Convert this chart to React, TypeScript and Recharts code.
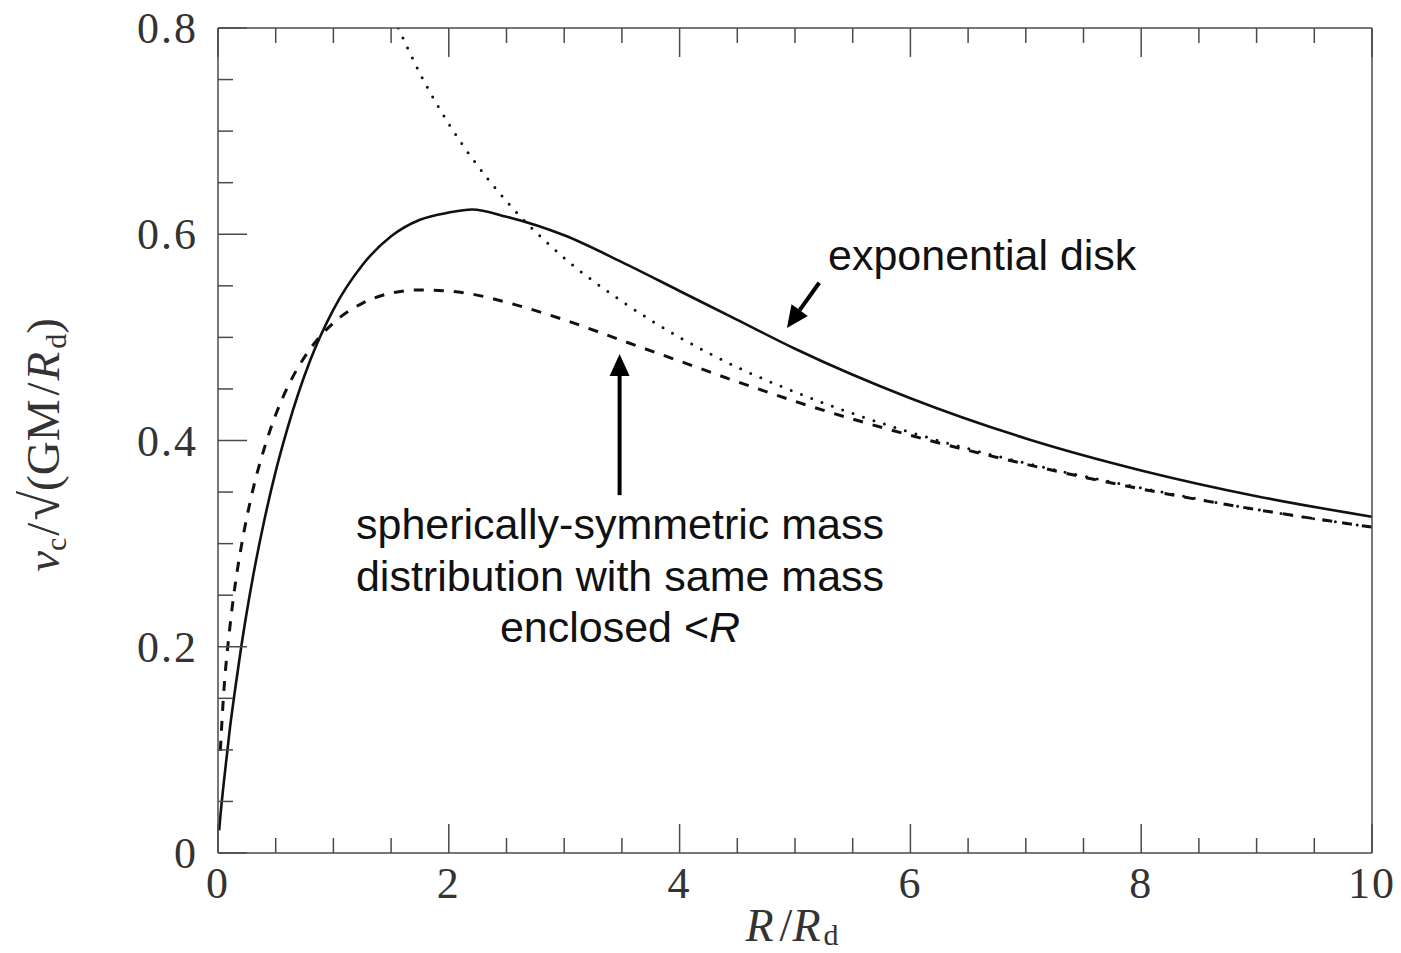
import { LineChart, Line, XAxis, YAxis, ReferenceLine } from 'recharts';

// R / R_d sample positions
const radius = [0.01, 0.02, 0.05, 0.1, 0.15, 0.2, 0.3, 0.4, 0.5, 0.6, 0.8, 1, 1.25, 1.5, 1.5625, 1.75, 2, 2.2, 2.5, 3, 3.5, 4, 4.5, 5, 6, 7, 8, 9, 10];
// exponential disk (solid)
const diskV = [0.022, 0.035, 0.068, 0.118, 0.16, 0.199, 0.266, 0.322, 0.37, 0.411, 0.478, 0.527, 0.570, 0.598, null, 0.614, 0.621, 0.624, 0.617, 0.599, 0.573, 0.545, 0.517, 0.489, 0.441, 0.402, 0.371, 0.346, 0.326];
// spherical distribution with same enclosed mass (dashed)
const sphereV = [null, 0.099, 0.156, 0.216, 0.261, 0.296, 0.351, 0.392, 0.425, 0.451, 0.489, 0.514, 0.533, 0.543, null, 0.546, 0.545, 0.542, 0.534, 0.517, 0.497, 0.477, 0.457, 0.438, 0.405, 0.377, 0.353, 0.333, 0.316];
// point mass / keplerian (dotted)
const pointV = [null, null, null, null, null, null, null, null, null, null, null, null, null, null, 0.8, 0.756, 0.707, 0.674, 0.632, 0.577, 0.535, 0.5, 0.471, 0.447, 0.408, 0.378, 0.354, 0.333, 0.316];

const xTicks = [0, 0.5, 1, 1.5, 2, 2.5, 3, 3.5, 4, 4.5, 5, 5.5, 6, 6.5, 7, 7.5, 8, 8.5, 9, 9.5, 10];
const xMajor = [0, 2, 4, 6, 8, 10];
const yTicks = [0, 0.05, 0.1, 0.15, 0.2, 0.25, 0.3, 0.35, 0.4, 0.45, 0.5, 0.55, 0.6, 0.65, 0.7, 0.75, 0.8];
const yMajor = [0, 0.2, 0.4, 0.6, 0.8];
const yLabels = ['0', '0.2', '0.4', '0.6', '0.8'];

// arrows: [R, v] tail -> tip
const diskArrow = [[5.21, 0.553], [4.93, 0.509]];
const sphereArrow = [[3.48, 0.347], [3.48, 0.484]];

const data = radius.map((r, i) => ({ r, disk: diskV[i], sphere: sphereV[i], point: pointV[i] }));

const AXIS = '#4a4a4a';
const TICK_FONT = '"Liberation Serif", "Times New Roman", serif';
const NOTE_FONT = '"Liberation Sans", Helvetica, Arial, sans-serif';
const MAJOR = 29;
const MINOR = 15;

const isMajor = (list: number[], v: number) => list.some(m => Math.abs(m - v) < 1e-6);

const BottomTick = (props: any) => {
    const { x, y, payload } = props;
    const major = isMajor(xMajor, payload.value);
    return (
        <g>
            <line x1={x} y1={y} x2={x} y2={y - (major ? MAJOR : MINOR)} stroke={AXIS} strokeWidth={1.5} />
            {major && (
                <text x={x} y={y + 45} textAnchor="middle" fontFamily={TICK_FONT} fontSize={44} fill="#333" letterSpacing={2}>
                    {payload.value}
                </text>
            )}
        </g>
    );
};

const TopTick = (props: any) => {
    const { x, y, payload } = props;
    const major = isMajor(xMajor, payload.value);
    return <line x1={x} y1={y} x2={x} y2={y + (major ? MAJOR : MINOR)} stroke={AXIS} strokeWidth={1.5} />;
};

const LeftTick = (props: any) => {
    const { x, y, payload } = props;
    const idx = yMajor.findIndex(m => Math.abs(m - payload.value) < 1e-6);
    const major = idx >= 0;
    return (
        <g>
            <line x1={x} y1={y} x2={x + (major ? MAJOR : MINOR)} y2={y} stroke={AXIS} strokeWidth={1.5} />
            {major && (
                <text x={x - 20} y={y + 15} textAnchor="end" fontFamily={TICK_FONT} fontSize={44} fill="#333" letterSpacing={2}>
                    {yLabels[idx]}
                </text>
            )}
        </g>
    );
};

const RightTick = (props: any) => {
    const { x, y, payload } = props;
    const major = isMajor(yMajor, payload.value);
    return <line x1={x} y1={y} x2={x - (major ? MAJOR : MINOR)} y2={y} stroke={AXIS} strokeWidth={1.5} />;
};

const Arrow = (props: any) => {
    const { x1, y1, x2, y2 } = props;
    const dx = x2 - x1;
    const dy = y2 - y1;
    const len = Math.sqrt(dx * dx + dy * dy);
    const ux = dx / len;
    const uy = dy / len;
    const headLen = 22;
    const headW = 10;
    const bx = x2 - ux * headLen;
    const by = y2 - uy * headLen;
    return (
        <g>
            <line x1={x1} y1={y1} x2={bx} y2={by} stroke="#000" strokeWidth={4} />
            <polygon
                points={`${x2},${y2} ${bx - uy * headW},${by + ux * headW} ${bx + uy * headW},${by - ux * headW}`}
                fill="#000"
            />
        </g>
    );
};

export default function App() {
    return (
        <div style={{ position: 'relative', width: 1393, height: 945, marginTop: -8 }}>
            <LineChart width={1393} height={945} data={data} margin={{ top: 8, right: 0, left: 0, bottom: 0 }}>
                <XAxis
                    dataKey="r"
                    type="number"
                    domain={[0, 10]}
                    ticks={xTicks}
                    interval={0}
                    height={92}
                    tickSize={0}
                    tickMargin={0}
                    tickLine={false}
                    axisLine={{ stroke: AXIS, strokeWidth: 1.5 }}
                    tick={<BottomTick />}
                    allowDataOverflow
                />
                <XAxis
                    xAxisId="top"
                    orientation="top"
                    dataKey="r"
                    type="number"
                    domain={[0, 10]}
                    ticks={xTicks}
                    interval={0}
                    height={20}
                    tickSize={0}
                    tickMargin={0}
                    tickLine={false}
                    axisLine={{ stroke: AXIS, strokeWidth: 1.5 }}
                    tick={<TopTick />}
                />
                <YAxis
                    type="number"
                    domain={[0, 0.8]}
                    ticks={yTicks}
                    interval={0}
                    width={210}
                    tickSize={0}
                    tickMargin={0}
                    tickLine={false}
                    axisLine={{ stroke: AXIS, strokeWidth: 1.5 }}
                    tick={<LeftTick />}
                    allowDataOverflow
                />
                <YAxis
                    yAxisId="right"
                    orientation="right"
                    type="number"
                    domain={[0, 0.8]}
                    ticks={yTicks}
                    interval={0}
                    width={29}
                    tickSize={0}
                    tickMargin={0}
                    tickLine={false}
                    axisLine={{ stroke: AXIS, strokeWidth: 1.5 }}
                    tick={<RightTick />}
                />
                <Line type="monotone" dataKey="point" stroke="#111" strokeWidth={3} strokeDasharray="0 11" strokeLinecap="round" dot={false} isAnimationActive={false} />
                <Line type="monotone" dataKey="sphere" stroke="#111" strokeWidth={3} strokeDasharray="10 10" dot={false} connectNulls isAnimationActive={false} />
                <Line type="monotone" dataKey="disk" stroke="#111" strokeWidth={2.6} dot={false} connectNulls isAnimationActive={false} />
                <ReferenceLine
                    segment={[{ x: diskArrow[0][0], y: diskArrow[0][1] }, { x: diskArrow[1][0], y: diskArrow[1][1] }]}
                    shape={<Arrow />}
                    ifOverflow="visible"
                />
                <ReferenceLine
                    segment={[{ x: sphereArrow[0][0], y: sphereArrow[0][1] }, { x: sphereArrow[1][0], y: sphereArrow[1][1] }]}
                    shape={<Arrow />}
                    ifOverflow="visible"
                />
            </LineChart>
            <svg width={1393} height={953} style={{ position: 'absolute', left: 0, top: 0, pointerEvents: 'none' }}>
                <text x={820} y={270} fontFamily={NOTE_FONT} fontSize={43} fill="#111">exponential disk</text>
                <g fontFamily={NOTE_FONT} fontSize={43} fill="#111" textAnchor="middle">
                    <text x={612} y={539}>spherically-symmetric mass</text>
                    <text x={612} y={591}>distribution with same mass</text>
                    <text x={612} y={642}>
                        enclosed &lt;<tspan fontStyle="italic">R</tspan>
                    </text>
                </g>
                <text x={784} y={941} textAnchor="middle" fontFamily={TICK_FONT} fontSize={46} fill="#333">
                    <tspan fontStyle="italic">R</tspan>
                    <tspan dx={6}>/</tspan>
                    <tspan fontStyle="italic">R</tspan>
                    <tspan fontSize={30} dx={3} dy={4}>d</tspan>
                </text>
                <text transform="translate(51, 445) rotate(-90)" textAnchor="middle" fontFamily={TICK_FONT} fontSize={47} fill="#333">
                    <tspan fontStyle="italic">v</tspan>
                    <tspan fontSize={30} dy={7}>c</tspan>
                    <tspan dy={-7} dx={2}>/</tspan>
                    <tspan fontSize={54} dx={2}>√</tspan>
                    <tspan>(GM</tspan>
                    <tspan dx={4}>/</tspan>
                    <tspan fontStyle="italic" dx={2}>R</tspan>
                    <tspan fontSize={30} dx={3} dy={7}>d</tspan>
                    <tspan dy={-7}>)</tspan>
                </text>
            </svg>
        </div>
    );
}
